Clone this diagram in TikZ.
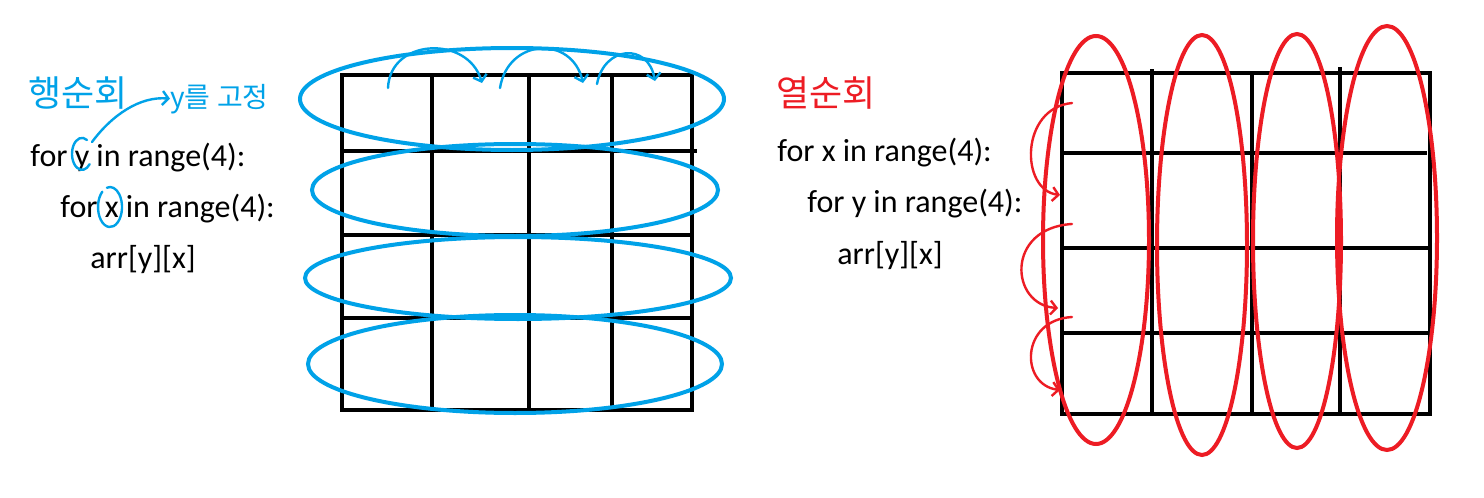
\documentclass[tikz,border=0pt]{standalone}
\usepackage{fontspec}
\setmainfont{Carlito}
\newfontfamily\krfont{Noto Sans CJK KR}
\usetikzlibrary{arrows.meta}
\definecolor{hblue}{RGB}{0,162,232}
\definecolor{hred}{RGB}{237,28,36}
\begin{document}
\begin{tikzpicture}[x=0.5pt,y=-0.5pt,
  gridline/.style={line width=2pt, black, line cap=rect},
  bluering/.style={draw=hblue, line width=2pt},
  redring/.style={draw=hred, line width=2pt},
  pen/.style={line width=1.2pt, line cap=round, -{Straight Barb[length=3pt,width=7pt]}},
  penplain/.style={line width=1.2pt, line cap=round},
  code/.style={anchor=base west, inner sep=0pt, font=\fontsize{16}{19}\selectfont},
  title/.style={anchor=base west, inner sep=0pt, font=\krfont\fontsize{18}{21}\selectfont}]
\useasboundingbox[fill=white] (0,0) rectangle (1484,498);

% ---------- left: row traversal ----------
\node[title, text=hblue] (ttlL) at (28,106) {행순회};
\node[anchor=base west, inner sep=0pt, text=hblue, font=\krfont\fontsize{14}{16}\selectfont] (fixy) at (170,107) {y를 고정};
\node[code] (l1) at (30,166) {for y in range(4):};
\node[code] (l2) at (60,217) {for x in range(4):};
\node[code] (l3) at (90,268) {arr[y][x]};

% grid (left)
\draw[gridline] (342,75) rectangle (692,410);
\draw[gridline] (342,151) -- (695,151);
\draw[gridline] (342,235) -- (692,235);
\draw[gridline] (342,318) -- (692,318);
\draw[gridline] (432,75) -- (432,410);
\draw[gridline] (529,75) -- (529,410);
\draw[gridline] (612,75) -- (612,410);

% blue rings
\draw[bluering] (512,99) ellipse [x radius=106pt, y radius=25.5pt];
\draw[bluering] (515,190) ellipse [x radius=101.5pt, y radius=23pt];
\draw[bluering] (518,278) ellipse [x radius=106.5pt, y radius=20.5pt];
\draw[bluering] (515,364) ellipse [x radius=103.5pt, y radius=24.5pt];

% blue hops along the first row
\draw[pen, draw=hblue] (388,88) .. controls (390,38) and (468,35) .. (482,83);
\draw[pen, draw=hblue] (500,88) .. controls (508,38) and (572,35) .. (583,83);
\draw[pen, draw=hblue] (597,84) .. controls (604,46) and (648,42) .. (655,81);

% circles around y and x
\draw[penplain, draw=hblue] (87,140) arc[start angle=60, end angle=320, x radius=5pt, y radius=8pt];
\coordinate (ytop) at (92,142);
\draw[penplain, draw=hblue] (102.3,191.7) arc[start angle=130, end angle=465, x radius=6pt, y radius=10pt];
\draw[pen, draw=hblue] (ytop) .. controls (112,115) and (140,96) .. (fixy.west);

% ---------- right: column traversal ----------
\node[title, text=hred] (ttlR) at (776,106) {열순회};
\node[code] (r1) at (777,161) {for x in range(4):};
\node[code] (r2) at (807,212) {for y in range(4):};
\node[code] (r3) at (837,264) {arr[y][x]};

% grid (right)
\draw[gridline] (1062,73) rectangle (1430,414);
\draw[gridline] (1062,153) -- (1425,153);
\draw[gridline] (1062,248) -- (1430,248);
\draw[gridline] (1062,333) -- (1430,333);
\draw[gridline] (1152,71) -- (1152,414);
\draw[gridline] (1252,73) -- (1252,414);
\draw[gridline] (1340,69) -- (1340,414);

% red rings
\draw[redring] (1096,240) ellipse [x radius=26.5pt, y radius=102pt];
\draw[redring] (1202,245) ellipse [x radius=22.5pt, y radius=105pt];
\draw[redring] (1297,241) ellipse [x radius=22pt, y radius=103.5pt];
\draw[redring] (1387,238) ellipse [x radius=25pt, y radius=106pt];

% red hops down the first column
\draw[pen, draw=hred] (1072,103) .. controls (1020,108) and (1020,190) .. (1060,195);
\draw[pen, draw=hred] (1072,224) .. controls (1005,228) and (1010,305) .. (1058,308);
\draw[pen, draw=hred] (1072,317) .. controls (1020,320) and (1020,385) .. (1060,390);
\end{tikzpicture}
\end{document}
